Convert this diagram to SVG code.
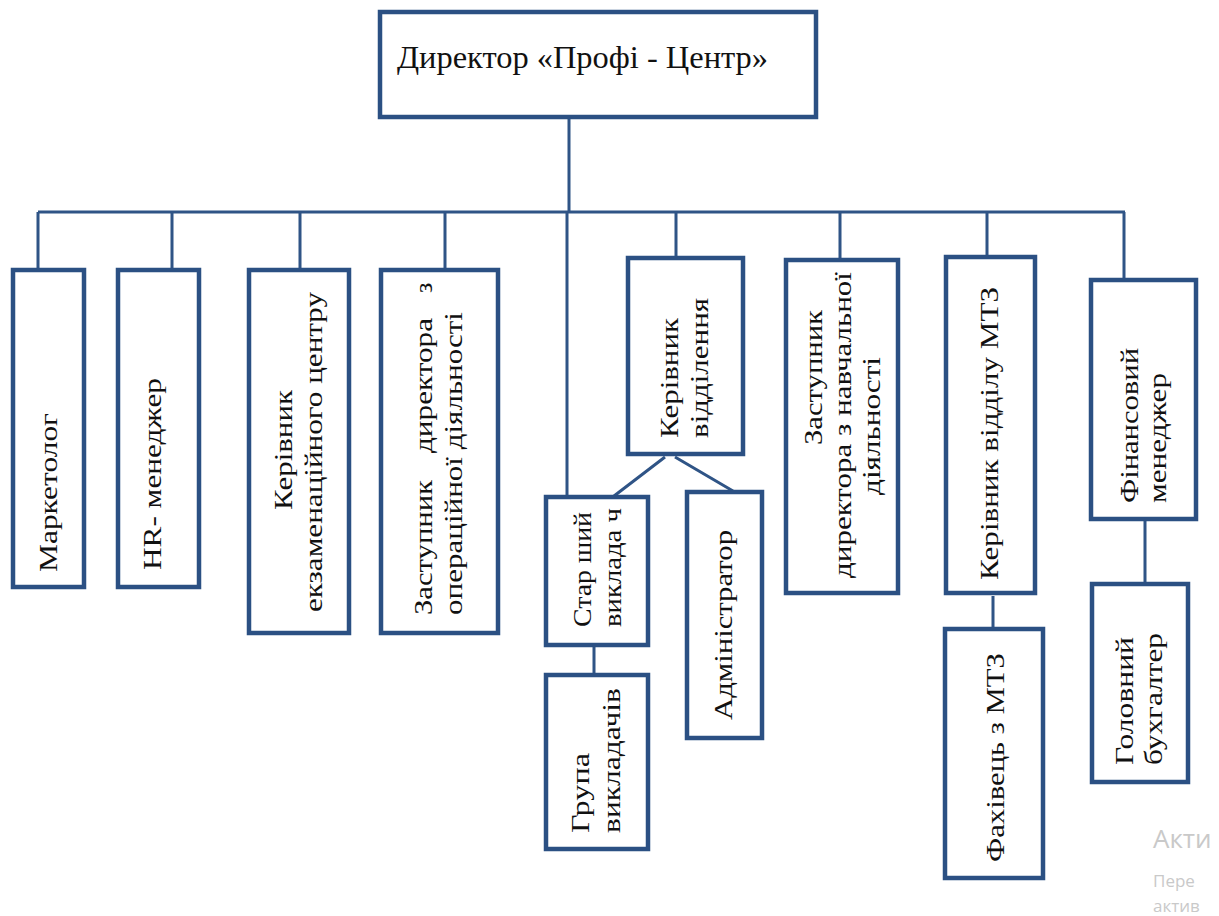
<svg xmlns="http://www.w3.org/2000/svg" width="1219" height="916" viewBox="0 0 1219 916">
<style>
.box{fill:#fff;stroke:#2b5083;stroke-width:4.5}
.ln{fill:none;stroke:#2f5486;stroke-width:3}
.t{font-family:"Liberation Serif","Times New Roman",serif;font-size:26px;fill:#111}
.wm{font-family:"Open Sans","Liberation Sans",sans-serif;fill:#c9c9c9}
</style>
<rect width="1219" height="916" fill="#fff"/>
<g id="connectors">
<path class="ln" d="M569,117V212M38,212H1125"/>
<path class="ln" d="M38,212V270M172,212V270M300,212V270M445,212V270M676,212V258M840,212V260M987,212V257M1124,212V280"/>
<path class="ln" stroke-width="2.5" d="M567,212V497"/>
<path class="ln" d="M665,457L614,496M675,457L733,491"/>
<path class="ln" d="M594,645V674M993,596V629M1145,519V584"/>
</g>
<g id="director">
<rect class="box" x="380" y="12" width="436" height="105"/>
<text class="t" font-size="32.5" transform="translate(397,68) scale(1,1.24)" textLength="371" lengthAdjust="spacingAndGlyphs">Директор «Профі - Центр»</text>
</g>
<g id="marketolog">
<rect class="box" x="13" y="270" width="71" height="317"/>
<text class="t" transform="translate(57,572) rotate(-90)" textLength="159" lengthAdjust="spacingAndGlyphs">Маркетолог</text>
</g>
<g id="hr">
<rect class="box" x="118" y="270" width="81" height="317"/>
<text class="t" transform="translate(161,570) rotate(-90)" textLength="192" lengthAdjust="spacingAndGlyphs">HR- менеджер</text>
</g>
<g id="exam">
<rect class="box" x="249" y="270" width="100" height="363"/>
<text class="t" transform="translate(292,510) rotate(-90)" textLength="120" lengthAdjust="spacingAndGlyphs">Керівник</text>
<text class="t" transform="translate(322,612) rotate(-90)" textLength="320" lengthAdjust="spacingAndGlyphs">екзаменаційного центру</text>
</g>
<g id="ops">
<rect class="box" x="381" y="270" width="117" height="363"/>
<text class="t" transform="translate(432,615) rotate(-90)" textLength="135" lengthAdjust="spacingAndGlyphs">Заступник</text>
<text class="t" transform="translate(432,453) rotate(-90)" textLength="135" lengthAdjust="spacingAndGlyphs">директора</text>
<text class="t" transform="translate(432,293) rotate(-90)">з</text>
<text class="t" transform="translate(462,615) rotate(-90)" textLength="303" lengthAdjust="spacingAndGlyphs">операційної діяльності</text>
</g>
<g id="dept">
<rect class="box" x="628" y="258" width="115" height="196"/>
<text class="t" transform="translate(678,438) rotate(-90)" textLength="120" lengthAdjust="spacingAndGlyphs">Керівник</text>
<text class="t" transform="translate(708,438) rotate(-90)" textLength="140" lengthAdjust="spacingAndGlyphs">відділення</text>
</g>
<g id="senior">
<rect class="box" x="546" y="497" width="102" height="148"/>
<text class="t" transform="translate(591,627) rotate(-90)" textLength="115" lengthAdjust="spacingAndGlyphs">Стар ший</text>
<text class="t" transform="translate(621,627) rotate(-90)" textLength="119" lengthAdjust="spacingAndGlyphs">виклада ч</text>
</g>
<g id="admin">
<rect class="box" x="687" y="492" width="75" height="246"/>
<text class="t" transform="translate(732,720) rotate(-90)" textLength="190" lengthAdjust="spacingAndGlyphs">Адміністратор</text>
</g>
<g id="group">
<rect class="box" x="546" y="675" width="102" height="174"/>
<text class="t" transform="translate(589,833) rotate(-90)" textLength="80" lengthAdjust="spacingAndGlyphs">Група</text>
<text class="t" transform="translate(620,833) rotate(-90)" textLength="145" lengthAdjust="spacingAndGlyphs">викладачів</text>
</g>
<g id="edu">
<rect class="box" x="786" y="260" width="112" height="333"/>
<text class="t" transform="translate(822,445) rotate(-90)" textLength="135" lengthAdjust="spacingAndGlyphs">Заступник</text>
<text class="t" transform="translate(851,578) rotate(-90)" textLength="306" lengthAdjust="spacingAndGlyphs">директора з навчальної</text>
<text class="t" transform="translate(880,495) rotate(-90)" textLength="138" lengthAdjust="spacingAndGlyphs">діяльності</text>
</g>
<g id="mtz">
<rect class="box" x="946" y="257" width="89" height="336"/>
<text class="t" transform="translate(998,580) rotate(-90)" textLength="293" lengthAdjust="spacingAndGlyphs">Керівник відділу МТЗ</text>
</g>
<g id="mtz-spec">
<rect class="box" x="945" y="629" width="98" height="249"/>
<text class="t" transform="translate(1004,862) rotate(-90)" textLength="209" lengthAdjust="spacingAndGlyphs">Фахівець з МТЗ</text>
</g>
<g id="fin">
<rect class="box" x="1091" y="280" width="105" height="239"/>
<text class="t" transform="translate(1138,503) rotate(-90)" textLength="155" lengthAdjust="spacingAndGlyphs">Фінансовий</text>
<text class="t" transform="translate(1166,503) rotate(-90)" textLength="130" lengthAdjust="spacingAndGlyphs">менеджер</text>
</g>
<g id="acc">
<rect class="box" x="1092" y="584" width="96" height="198"/>
<text class="t" transform="translate(1133,765) rotate(-90)" textLength="128" lengthAdjust="spacingAndGlyphs">Головний</text>
<text class="t" transform="translate(1162,765) rotate(-90)" textLength="132" lengthAdjust="spacingAndGlyphs">бухгалтер</text>
</g>
<g id="watermark">
<text class="wm" x="1153" y="848" font-size="26">Акти</text>
<text class="wm" x="1153" y="887" font-size="17">Пере</text>
<text class="wm" x="1153" y="912" font-size="17">актив</text>
</g>
</svg>
